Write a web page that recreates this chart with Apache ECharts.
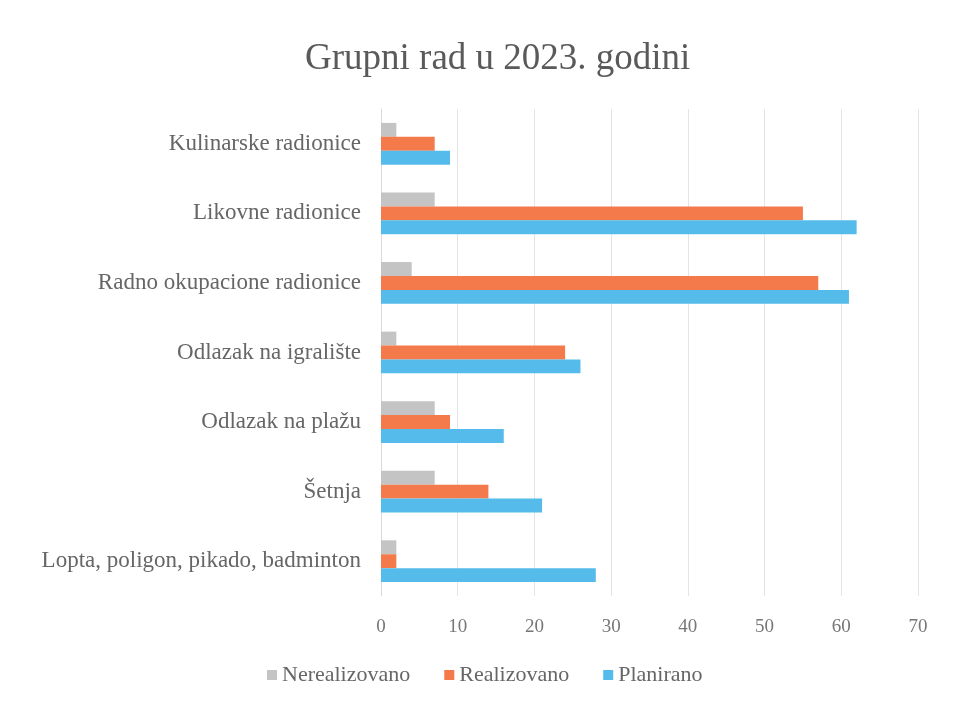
<!DOCTYPE html>
<html>
	<head>
		<meta charset="utf-8">
		<title>Grupni rad u 2023. godini</title>
		<script src="https://cdn.jsdelivr.net/npm/echarts@6/dist/echarts.min.js"></script>
		<style type="text/css">
			html, body{
				margin: 0;
				padding: 0;
				background: #fff;
			}
			#chart{
				width: 954px;
				height: 707px;
			}
		</style>
	</head>
	<body>
		<div id="chart"></div>
		<script>
			// kategorije (odozgo prema dolje)
			var categories = ['Kulinarske radionice', 'Likovne radionice', 'Radno okupacione radionice',
				'Odlazak na igralište', 'Odlazak na plažu', 'Šetnja', 'Lopta, poligon, pikado, badminton'];
			var nerealizovano = [2, 7, 4, 2, 7, 7, 2];
			var realizovano = [7, 55, 57, 24, 9, 14, 2];
			var planirano = [9, 62, 61, 26, 16, 21, 28];
			var seriesNames = ['Nerealizovano', 'Realizovano', 'Planirano'];

			var font = 'Liberation Serif';
			var chart = echarts.init(document.getElementById('chart'));

			var option = {
				color: ['#C4C4C4', '#F47A4C', '#55BBEA'],
				title: {
					text: 'Grupni rad u 2023. godini',
					left: 300,
					top: 36,
					textStyle: {
						fontFamily: font,
						fontSize: 37,
						fontWeight: 'normal',
						color: '#5a5a5a'
					}
				},
				legend: {
					data: seriesNames,
					bottom: 16,
					left: 262,
					icon: 'rect',
					itemWidth: 10,
					itemHeight: 10,
					itemGap: 34,
					textStyle: {
						fontFamily: font,
						fontSize: 22,
						color: '#666'
					}
				},
				grid: {
					left: 381,
					right: 36,
					top: 109,
					bottom: 111,
					containLabel: false
				},
				xAxis: {
					type: 'value',
					min: 0,
					max: 70,
					interval: 10,
					axisLine: { show: false },
					axisTick: { show: false },
					axisLabel: {
						fontFamily: font,
						fontSize: 19,
						color: '#777',
						margin: 22
					},
					splitLine: {
						lineStyle: { color: '#E4E4E4' }
					}
				},
				yAxis: {
					type: 'category',
					data: categories,
					inverse: true,
					axisLine: {
						lineStyle: { color: '#D9D9D9' }
					},
					axisTick: { show: false },
					axisLabel: {
						fontFamily: font,
						fontSize: 23,
						color: '#666',
						margin: 20
					}
				},
				series: [{
					name: seriesNames[0],
					type: 'bar',
					data: nerealizovano,
					barGap: '0%',
					barCategoryGap: '40%'
				}, {
					name: seriesNames[1],
					type: 'bar',
					data: realizovano,
					barGap: '0%',
					barCategoryGap: '40%'
				}, {
					name: seriesNames[2],
					type: 'bar',
					data: planirano,
					barGap: '0%',
					barCategoryGap: '40%'
				}]
			};

			chart.setOption(option);
		</script>
	</body>
</html>
